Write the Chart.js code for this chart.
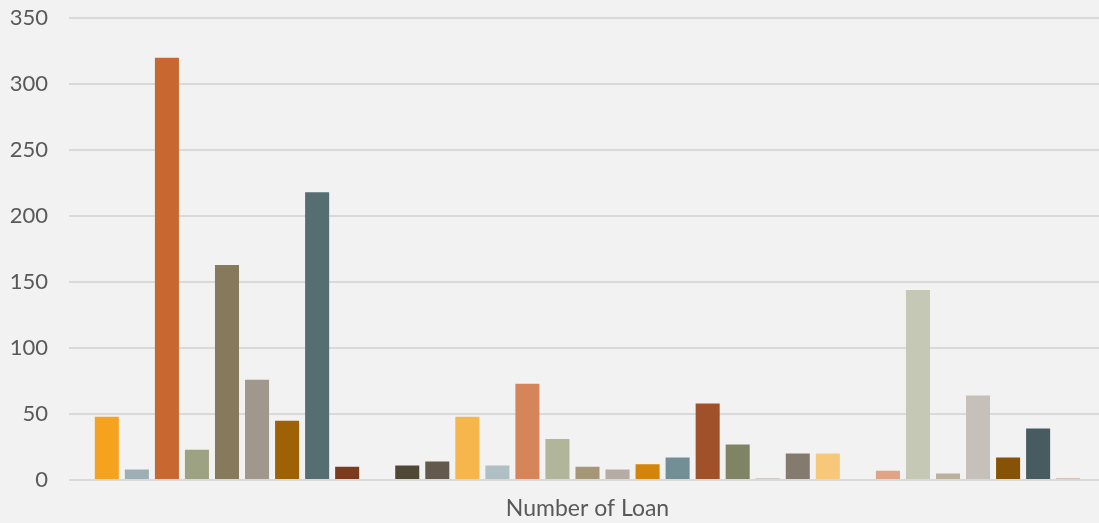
<!DOCTYPE html>
<html>
<head>
<meta charset="utf-8">
<script src="https://cdn.jsdelivr.net/npm/chart.js@4"></script>
<style>
  html, body { margin: 0; padding: 0; background: #F2F2F2; overflow: hidden; }
  /* canvas a bit taller and shifted up so the 350 line sits near the top edge */
  .chart-box { position: relative; width: 1106px; height: 539px; margin-top: -16px; }
</style>
</head>
<body>
<div class="chart-box"><canvas id="loanChart"></canvas></div>
<script>
// one category, each bar is its own series
const categories = ['Number of Loan'];
const loanCounts = [48, 8, 320, 23, 163, 76, 45, 218, 10, 0, 11, 14, 48, 11, 73, 31, 10, 8, 12, 17, 58, 27, 1, 20, 20, 0, 7, 144, 5, 64, 17, 39, 1];
const yTicks = [0, 50, 100, 150, 200, 250, 300, 350];

const barColors = ['#F5A31E', '#9DAFB4', '#C8672F', '#9DA382', '#86795C', '#A0988C', '#9E6205', '#566D72', '#7B3B1D', '#999999',
  '#4E4834', '#635A4D', '#F7B64B', '#B0BFC3', '#D6855A', '#B1B69B', '#A59678', '#B5ADA3', '#D48408', '#728F96',
  '#A05129', '#7F8564', '#6B5E42', '#857A6E', '#F8C87A', '#999999', '#E0A485', '#C5C8B4', '#BAB09C', '#C5C1BA',
  '#865206', '#485B61', '#6D3418'];

const datasets = loanCounts.map((v, i) => ({
  label: 'Series ' + (i + 1),
  data: [v],
  backgroundColor: barColors[i],
  barPercentage: 0.8,
  categoryPercentage: 0.956
}));

const textColor = '#595959';
const fontFamily = "Lato, 'Open Sans', sans-serif";

new Chart(document.getElementById('loanChart').getContext('2d'), {
  type: 'bar',
  data: { labels: categories, datasets: datasets },
  options: {
    responsive: true,
    maintainAspectRatio: false,
    animation: false,
    layout: { padding: 0 },
    plugins: { legend: { display: false }, tooltip: { enabled: false } },
    scales: {
      x: {
        grid: { display: false },
        border: { display: false },
        ticks: { color: textColor, font: { family: fontFamily, size: 23 }, padding: 7 },
        afterFit: (s) => { s.height = 43; }
      },
      y: {
        min: 0,
        max: 350,
        afterBuildTicks: (s) => { s.ticks = yTicks.map(v => ({ value: v })); },
        grid: { color: '#D9D9D9', lineWidth: 2, drawTicks: false },
        border: { display: false },
        ticks: { color: textColor, font: { family: fontFamily, size: 22 }, padding: 21 },
        afterFit: (s) => { s.width = 69; }
      }
    }
  }
});
</script>
</body>
</html>
